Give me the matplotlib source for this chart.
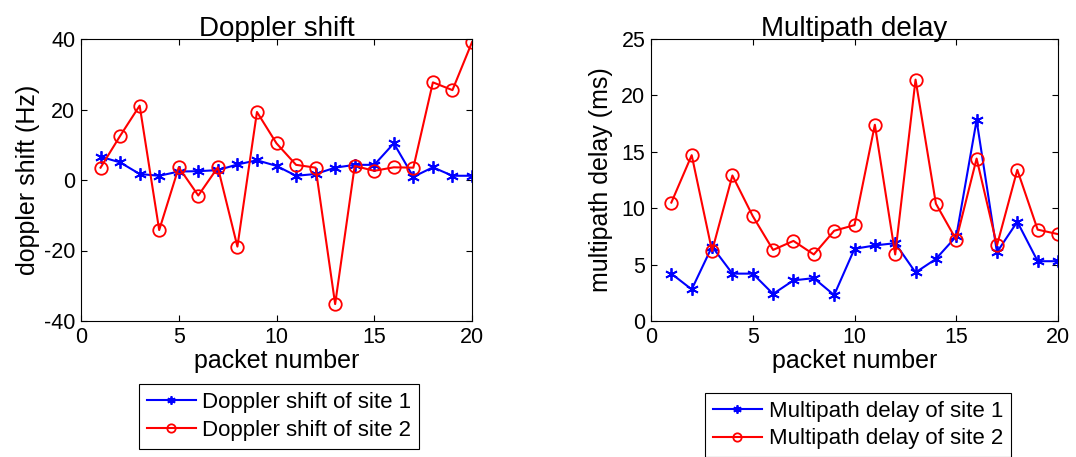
import matplotlib
matplotlib.use("Agg")
import matplotlib.pyplot as plt

packets = list(range(1, 21))
doppler_site1 = [6.6, 5.0, 1.7, 1.2, 2.4, 2.5, 2.8, 4.4, 5.6, 4.0,
                 1.2, 1.7, 3.5, 4.3, 4.3, 10.4, 0.9, 3.6, 1.2, 1.2]
doppler_site2 = [3.5, 12.5, 21.1, -14.2, 3.6, -4.4, 3.6, -18.9, 19.3, 10.4,
                 4.3, 3.5, -35.2, 4.0, 2.6, 3.6, 3.5, 27.7, 25.5, 39.1]
delay_site1 = [4.2, 2.8, 6.6, 4.2, 4.2, 2.4, 3.6, 3.8, 2.3, 6.4,
               6.7, 6.9, 4.3, 5.5, 7.5, 17.8, 6.1, 8.8, 5.3, 5.3]
delay_site2 = [10.5, 14.7, 6.2, 12.9, 9.3, 6.3, 7.1, 5.9, 8.0, 8.5,
               17.4, 5.9, 21.4, 10.4, 7.2, 14.4, 6.7, 13.4, 8.1, 7.7]

plt.rcParams['font.family'] = ['Liberation Sans', 'DejaVu Sans']
plt.rcParams['axes.unicode_minus'] = False

TICK_FS = 15.5
LABEL_FS = 18
TITLE_FS = 20
LEG_FS = 16

W, H = 1076, 457
fig = plt.figure(figsize=(W / 100, H / 100), dpi=100)

ax1 = fig.add_axes([81 / W, 1 - 321 / H, (472 - 81) / W, 282 / H])
ax2 = fig.add_axes([651 / W, 1 - 321 / H, (1058 - 651) / W, 282 / H])

star = (6, 2, 0)

def style(ax):
    ax.tick_params(direction='in', top=True, right=True, length=4, width=0.8,
                   labelsize=TICK_FS, pad=4)
    for s in ax.spines.values():
        s.set_linewidth(0.8)

l1, = ax1.plot(packets, doppler_site1, color='blue', marker=star, markersize=9,
               markeredgewidth=1.3, linewidth=1.5, label='Doppler shift of site 1')
l2, = ax1.plot(packets, doppler_site2, color='red', marker='o', markersize=9,
               markerfacecolor='none', markeredgewidth=1.3, linewidth=1.5,
               label='Doppler shift of site 2')
ax1.set_xlim(0, 20)
ax1.set_ylim(-40, 40)
ax1.set_xticks([0, 5, 10, 15, 20])
ax1.set_yticks([-40, -20, 0, 20, 40])
ax1.set_title('Doppler shift', fontsize=TITLE_FS, pad=2)
ax1.set_xlabel('packet number', fontsize=LABEL_FS, labelpad=1)
ax1.set_ylabel('doppler shift (Hz)', fontsize=LABEL_FS, labelpad=3)
style(ax1)

m1, = ax2.plot(packets, delay_site1, color='blue', marker=star, markersize=9,
               markeredgewidth=1.3, linewidth=1.5, label='Multipath delay of site 1')
m2, = ax2.plot(packets, delay_site2, color='red', marker='o', markersize=9,
               markerfacecolor='none', markeredgewidth=1.3, linewidth=1.5,
               label='Multipath delay of site 2')
ax2.set_xlim(0, 20)
ax2.set_ylim(0, 25)
ax2.set_xticks([0, 5, 10, 15, 20])
ax2.set_yticks([0, 5, 10, 15, 20, 25])
ax2.set_title('Multipath delay', fontsize=TITLE_FS, pad=2)
ax2.set_xlabel('packet number', fontsize=LABEL_FS, labelpad=1)
ax2.set_ylabel('multipath delay (ms)', fontsize=LABEL_FS, labelpad=6)
style(ax2)

def make_legend(handles, cx, cy):
    leg = fig.legend(handles=handles, loc='center', bbox_to_anchor=(cx, cy),
                     fontsize=LEG_FS, frameon=True, fancybox=False, edgecolor='black',
                     framealpha=1, handlelength=2.2, handletextpad=0.3,
                     labelspacing=0.3, borderpad=0.35, borderaxespad=0)
    leg.get_frame().set_linewidth(0.8)
    for h in leg.legend_handles:
        h.set_markersize(6)
    return leg

make_legend([l1, l2], 279 / W, 1 - 416.5 / H)
make_legend([m1, m2], 858 / W, 1 - 425 / H)

fig.savefig('out.png', dpi=100)
